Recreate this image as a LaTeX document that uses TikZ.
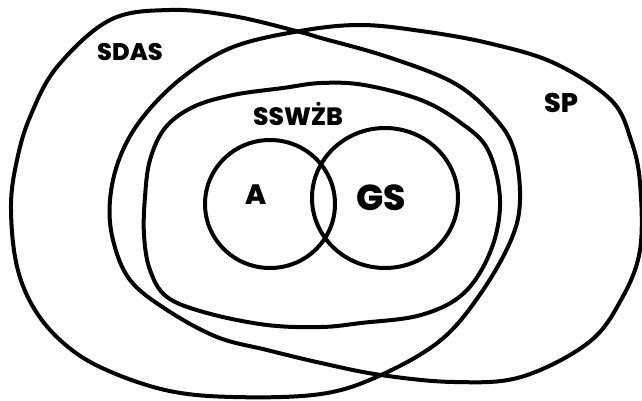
\documentclass[tikz,border=0pt]{standalone}
\usepackage{fontspec}
\setmainfont{Poppins}[BoldFont={Poppins ExtraBold}]
\begin{document}
\begin{tikzpicture}[x=1pt,y=-1pt,
  setline/.style={line width=4pt, line join=round, line cap=round, black},
  setlabel/.style={font=\bfseries, inner sep=0pt, anchor=center}]
\useasboundingbox (0,0) rectangle (642,401);
% SDAS
\draw[setline] plot[smooth cycle, tension=0.6] coordinates {
 (300,32) (233,16) (170,10) (110,20) (57,67) (30,117) (17,160) (11,205)
 (16,262) (32,305) (60,340) (100,367) (165,390) (233,397) (321,394)
 (381,375) (441,340) (481,293) (511,240) (520,200) (514,150) (494,117)
 (454,83) (388,57) (321,38)};
% SP
\draw[setline] plot[smooth cycle, tension=0.6] coordinates {
 (360,25) (421,31) (488,43) (554,63) (611,100) (631,140) (640,183)
 (640,250) (621,300) (588,343) (521,377) (454,382) (381,375) (321,363)
 (267,350) (217,337) (167,310) (130,280) (113,240) (110,200) (120,157)
 (143,117) (183,77) (233,47) (300,31)};
% SSWZB
\draw[setline] plot[smooth cycle, tension=0.6] coordinates {
 (150,160) (165,128) (193,107) (233,95) (283,88) (321,83) (364,85)
 (421,100) (461,123) (488,150) (500,200) (491,250) (464,293) (421,315)
 (361,323) (321,327) (267,325) (207,313) (167,297) (150,270) (144,235)
 (145,197)};
% A and GS
\draw[setline] (270,204) ellipse [x radius=65, y radius=64];
\draw[setline] (385,198) ellipse [x radius=73, y radius=70];
% labels
\node[setlabel, font=\bfseries\fontsize{24}{24}\selectfont] (sdas) at (130,52) {SDAS};
\node[setlabel, font=\bfseries\fontsize{25}{25}\selectfont] (sswzb) at (298,114) {SSWŻB};
\node[setlabel, font=\bfseries\fontsize{27}{27}\selectfont] (sp) at (561,103) {SP};
\node[setlabel, font=\bfseries\fontsize{28}{28}\selectfont] (a) at (256,195) {A};
\node[setlabel, font=\bfseries\fontsize{36}{36}\selectfont] (gs) at (381,198) {GS};
\end{tikzpicture}
\end{document}
